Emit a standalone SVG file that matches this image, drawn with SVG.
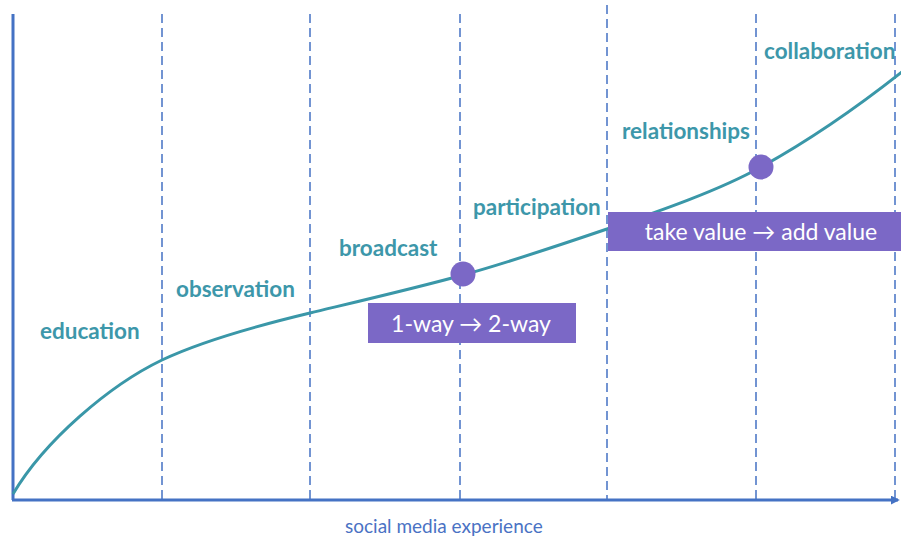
<svg xmlns="http://www.w3.org/2000/svg" width="901" height="540" viewBox="0 0 901 540">
  <style>
    .axis { stroke: #4472c4; stroke-width: 3; fill: none; }
    .grid { stroke: #4472c4; stroke-width: 1.5; stroke-dasharray: 9 5; fill: none; }
    .curve { stroke: #3a97a8; stroke-width: 3; fill: none; }
    .stage { font-family: Lato, "Open Sans", sans-serif; font-weight: bold; font-size: 22.5px; fill: #3d97aa; }
    .band { fill: #7b68c6; }
    .band-text { font-family: Lato, "Open Sans", sans-serif; font-size: 23px; fill: #ffffff; text-anchor: middle; }
    .dot { fill: #7b68c6; }
    .axis-label { font-family: Lato, "Open Sans", sans-serif; font-size: 19px; fill: #4a72c4; }
  </style>
  <defs>
    <marker id="axis-arrow" viewBox="0 0 10 10" refX="8" refY="5" markerWidth="3" markerHeight="3" orient="auto">
      <path d="M0,0 L10,5 L0,10 z" fill="#4472c4"/>
    </marker>
  </defs>

  <!-- stage boundaries -->
  <g id="grid">
    <line class="grid" x1="162" y1="14" x2="162" y2="499"/>
    <line class="grid" x1="310" y1="14" x2="310" y2="499"/>
    <line class="grid" x1="460" y1="14" x2="460" y2="499"/>
    <line class="grid" x1="607" y1="5" x2="607" y2="499"/>
    <line class="grid" x1="756" y1="14" x2="756" y2="499"/>
    <line class="grid" x1="895" y1="14" x2="895" y2="499"/>
  </g>

  <!-- axes -->
  <g id="axes">
    <line class="axis" x1="13" y1="14" x2="13" y2="500"/>
    <line class="axis" x1="12" y1="500" x2="898" y2="500" marker-end="url(#axis-arrow)"/>
    <text class="axis-label" x="345" y="533">social media experience</text>
  </g>

  <!-- growth curve -->
  <g id="connectors">
    <path class="curve" d="M13,494 C45,440 110,385 162,360 C200,342 260,325 310,313 C360,301 420,287 463,275 C510,262 560,245 607,229 C660,211 720,190 761,167 C810,140 860,105 903,71"/>
  </g>

  <!-- stage labels -->
  <g id="education"><text class="stage" x="40" y="339">education</text></g>
  <g id="observation"><text class="stage" x="176" y="297">observation</text></g>
  <g id="broadcast"><text class="stage" x="339" y="256">broadcast</text></g>
  <g id="participation"><text class="stage" x="473" y="215">participation</text></g>
  <g id="relationships"><text class="stage" x="622" y="139">relationships</text></g>
  <g id="collaboration"><text class="stage" x="764" y="59">collaboration</text></g>

  <!-- transition markers -->
  <g id="one-way-two-way">
    <rect class="band" x="368" y="303" width="208" height="40"/>
    <text class="band-text" x="471" y="332">1-way → 2-way</text>
  </g>
  <g id="take-add-value">
    <rect class="band" x="608" y="212" width="293" height="39"/>
    <text class="band-text" x="761" y="240">take value → add value</text>
  </g>
  <g id="point-broadcast"><circle class="dot" cx="463" cy="274" r="12.5"/></g>
  <g id="point-relationships"><circle class="dot" cx="761" cy="167" r="12.5"/></g>
</svg>
